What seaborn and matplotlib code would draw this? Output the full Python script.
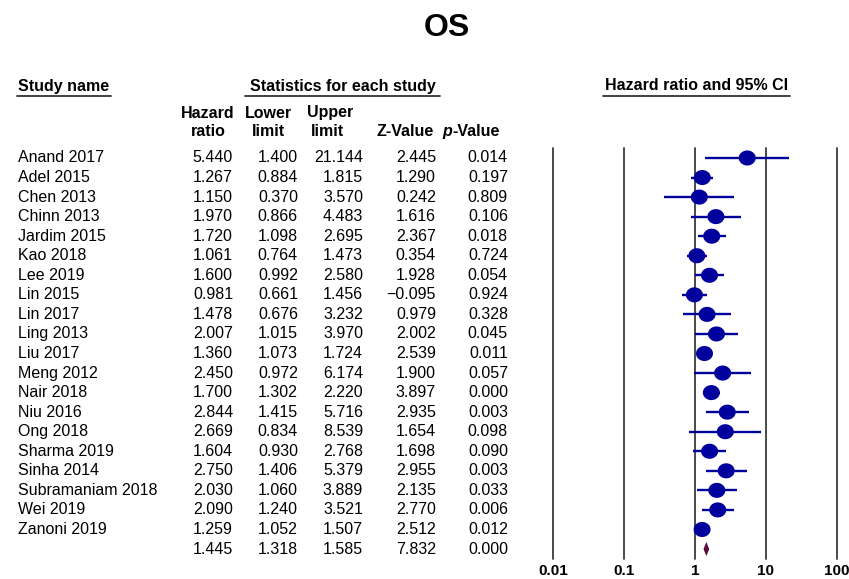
import numpy as np
import pandas as pd
import matplotlib
matplotlib.use("Agg")
import matplotlib.pyplot as plt
import seaborn as sns
from matplotlib.path import Path
from matplotlib.lines import Line2D
from matplotlib.transforms import blended_transform_factory

# ---------------- data ----------------
studies = ["Anand 2017", "Adel 2015", "Chen 2013", "Chinn 2013", "Jardim 2015",
           "Kao 2018", "Lee 2019", "Lin 2015", "Lin 2017", "Ling 2013",
           "Liu 2017", "Meng 2012", "Nair 2018", "Niu 2016", "Ong 2018",
           "Sharma 2019", "Sinha 2014", "Subramaniam 2018", "Wei 2019", "Zanoni 2019"]
hr = [5.440, 1.267, 1.150, 1.970, 1.720, 1.061, 1.600, 0.981, 1.478, 2.007,
      1.360, 2.450, 1.700, 2.844, 2.669, 1.604, 2.750, 2.030, 2.090, 1.259]
lower = [1.400, 0.884, 0.370, 0.866, 1.098, 0.764, 0.992, 0.661, 0.676, 1.015,
         1.073, 0.972, 1.302, 1.415, 0.834, 0.930, 1.406, 1.060, 1.240, 1.052]
upper = [21.144, 1.815, 3.570, 4.483, 2.695, 1.473, 2.580, 1.456, 3.232, 3.970,
         1.724, 6.174, 2.220, 5.716, 8.539, 2.768, 5.379, 3.889, 3.521, 1.507]
zval = [2.445, 1.290, 0.242, 1.616, 2.367, 0.354, 1.928, -0.095, 0.979, 2.002,
        2.539, 1.900, 3.897, 2.935, 1.654, 1.698, 2.955, 2.135, 2.770, 2.512]
pval = [0.014, 0.197, 0.809, 0.106, 0.018, 0.724, 0.054, 0.924, 0.328, 0.045,
        0.011, 0.057, 0.000, 0.003, 0.098, 0.090, 0.003, 0.033, 0.006, 0.012]
summary_hr, summary_lower, summary_upper = 1.445, 1.318, 1.585
summary_z, summary_p = 7.832, 0.000
xticks = [0.01, 0.1, 1, 10, 100]
xtick_labels = ["0.01", "0.1", "1", "10", "100"]

# ---------------- figure ----------------
sns.set_style("white")
plt.rcParams["font.family"] = ["Liberation Sans", "DejaVu Sans"]
plt.rcParams["text.color"] = "black"
plt.rcParams["xtick.color"] = "black"
plt.rcParams["axes.labelcolor"] = "black"

W, H = 849, 579
fig = plt.figure(figsize=(W / 100, H / 100), dpi=100)

def fx(px):
    return px / W

def fy(py):
    return 1 - py / H

NAVY = "#00009c"
MAROON = "#5e0b3f"

# forest axes: x 553..837 px, y 148.2..558.8 px
ax = fig.add_axes([fx(553), fy(558.8), fx(837) - fx(553), fy(148.2) - fy(558.8)])
ax.set_xscale("log")
ax.set_xlim(0.01, 100)
n = len(studies)
ax.set_ylim(n + 0.5, -0.5)

for t in xticks:
    ax.axvline(t, color="#3a3a3a", lw=1.3, clip_on=False, zorder=1)

df = pd.DataFrame({"study": studies, "hr": hr, "lower": lower, "upper": upper,
                   "row": np.arange(n)})

ax.hlines(df["row"], df["lower"], df["upper"], color=NAVY, lw=1.7, zorder=2)

# slightly wide ellipse marker
theta = np.linspace(0, 2 * np.pi, 60)
verts = np.column_stack([1.13 * np.cos(theta), np.sin(theta)])
ell = Path(verts, closed=True)
sns.scatterplot(data=df, x="hr", y="row", ax=ax, marker=ell, s=150,
                color=NAVY, edgecolor="none", linewidth=0, zorder=3, legend=False)
ax.set_ylim(n + 0.5, -0.5)

# summary diamond
ax.fill([summary_lower, summary_hr, summary_upper, summary_hr],
        [n, n - 0.36, n, n + 0.36], color=MAROON, lw=0, zorder=3)

ax.set_xticks(xticks)
ax.set_xticklabels(xtick_labels, fontsize=11, fontweight="bold", color="black")
ax.minorticks_off()
ax.tick_params(axis="x", length=0, pad=3.5)
ax.set_yticks([])
ax.set_xlabel("")
ax.set_ylabel("")
for s in ax.spines.values():
    s.set_visible(False)
ax.patch.set_alpha(0)

# ---------------- table ----------------
tr = blended_transform_factory(fig.transFigure, ax.transData)
FS = 11.5

def fmt(v):
    s = f"{abs(v):.3f}"
    return ("\u2212" + s) if v < 0 else s

cols_right = [233, 298, 363, 436, 508]
for i in range(n):
    ax.text(fx(18), i, studies[i], transform=tr, ha="left", va="center", fontsize=FS, clip_on=False)
    vals = [hr[i], lower[i], upper[i], zval[i], pval[i]]
    for xr, v in zip(cols_right, vals):
        ax.text(fx(xr), i, fmt(v), transform=tr, ha="right", va="center", fontsize=FS, clip_on=False)
for xr, v in zip(cols_right, [summary_hr, summary_lower, summary_upper, summary_z, summary_p]):
    ax.text(fx(xr), n, fmt(v), transform=tr, ha="right", va="center", fontsize=FS, clip_on=False)

# ---------------- headers ----------------
fig.text(fx(447), fy(28), "OS", ha="center", va="center", fontsize=23, fontweight="bold")

HFS = 11.5
fig.text(fx(18), fy(86), "Study name", ha="left", va="center", fontsize=HFS, fontweight="bold")
fig.text(fx(343), fy(86), "Statistics for each study", ha="center", va="center", fontsize=HFS, fontweight="bold")
fig.text(fx(697), fy(86), "Hazard ratio and 95% CI", ha="center", va="center", fontsize=HFS, fontweight="bold")

for x0, x1 in [(17, 111), (245, 440), (603, 790)]:
    fig.add_artist(Line2D([fx(x0), fx(x1)], [fy(96), fy(96)], color="#333333", lw=1.3,
                          transform=fig.transFigure))

fig.text(fx(208), fy(113), "Hazard", ha="center", va="center", fontsize=HFS, fontweight="bold")
fig.text(fx(208), fy(131), "ratio", ha="center", va="center", fontsize=HFS, fontweight="bold")
fig.text(fx(268), fy(113), "Lower", ha="center", va="center", fontsize=HFS, fontweight="bold")
fig.text(fx(268), fy(131), "limit", ha="center", va="center", fontsize=HFS, fontweight="bold")
fig.text(fx(330), fy(113), "Upper", ha="center", va="center", fontsize=HFS, fontweight="bold")
fig.text(fx(327), fy(131), "limit", ha="center", va="center", fontsize=HFS, fontweight="bold")
fig.text(fx(405), fy(131), "Z-Value", ha="center", va="center", fontsize=HFS, fontweight="bold")
fig.text(fx(452), fy(131), "p", ha="right", va="center", fontsize=HFS, fontweight="bold", style="italic")
fig.text(fx(452), fy(131), "-Value", ha="left", va="center", fontsize=HFS, fontweight="bold")

fig.savefig("out.png", dpi=100, facecolor="white")
